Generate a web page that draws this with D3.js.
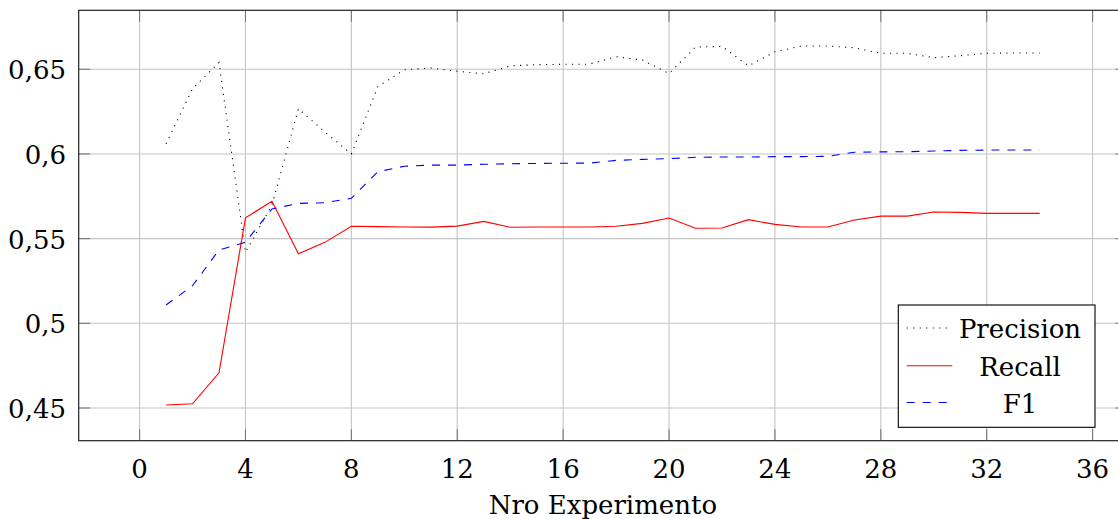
<!DOCTYPE html>
<html>
<head>
<meta charset="utf-8">
<script src="https://cdn.jsdelivr.net/npm/d3@7"></script>
<style>
  html, body { margin: 0; padding: 0; background: #fff; }
  svg { display: block; }
</style>
</head>
<body>
<svg id="chart" width="1118" height="519"></svg>
<script>
// ---- data ----
const experiments = d3.range(1, 35);
const precision = [0.606, 0.6385, 0.654, 0.542, 0.5698, 0.6267, 0.613, 0.600, 0.6397, 0.6497,
  0.6507, 0.6488, 0.6473, 0.652, 0.6527, 0.6529, 0.653, 0.6574, 0.6554, 0.6475,
  0.6631, 0.6635, 0.652, 0.6603, 0.6637, 0.6637, 0.6627, 0.6594, 0.6594, 0.6568,
  0.658, 0.6594, 0.6596, 0.6596];
const recall = [0.4518, 0.4525, 0.4708, 0.5623, 0.572, 0.5411, 0.5478, 0.5573, 0.5571, 0.5569,
  0.5568, 0.5574, 0.5602, 0.5567, 0.5569, 0.5569, 0.5569, 0.5573, 0.559, 0.5622,
  0.5561, 0.5563, 0.5612, 0.5584, 0.5569, 0.5569, 0.561, 0.5633, 0.5633, 0.5657,
  0.5655, 0.5649, 0.5649, 0.5649];
const f1 = [0.5108, 0.5222, 0.5433, 0.5478, 0.5675, 0.5708, 0.5712, 0.5738, 0.5895, 0.5927,
  0.5934, 0.5934, 0.5939, 0.5942, 0.5944, 0.5945, 0.5946, 0.5962, 0.5968, 0.5972,
  0.598, 0.5982, 0.5982, 0.5984, 0.5984, 0.5986, 0.601, 0.6012, 0.6013, 0.6017,
  0.6021, 0.6023, 0.6023, 0.6023];
const xTicks = [0, 4, 8, 12, 16, 20, 24, 28, 32, 36];
const yTicks = [0.45, 0.5, 0.55, 0.6, 0.65];
const yTickLabels = ["0,45", "0,5", "0,55", "0,6", "0,65"];
const seriesNames = ["Precision", "Recall", "F1"];
const xLabel = "Nro Experimento";

// ---- layout ----
const L = 78.7, R = 1127, T = 10.3, B = 440.7;
const x = d3.scaleLinear().domain([-2.3, 37.3]).range([L, R]);
const y = d3.scaleLinear().domain([0.4307, 0.6848]).range([B, T]);

const svg = d3.select("#chart");
const FS = 26;
const FF = "'DejaVu Serif', serif";

// grid
const grid = svg.append("g");
grid.selectAll("line.gx").data(xTicks).join("line")
  .attr("x1", d => x(d)).attr("x2", d => x(d)).attr("y1", T).attr("y2", B)
  .attr("stroke", "#c4c4c4").attr("stroke-width", 1.1);
grid.selectAll("line.gy").data(yTicks).join("line")
  .attr("x1", L).attr("x2", R).attr("y1", d => y(d)).attr("y2", d => y(d))
  .attr("stroke", "#c4c4c4").attr("stroke-width", 1.1);

// tick marks (inside, on all sides)
const TL = 11.5;
const ticks = svg.append("g").attr("stroke", "#777").attr("stroke-width", 1.1);
xTicks.forEach(d => {
  ticks.append("line").attr("x1", x(d)).attr("x2", x(d)).attr("y1", B).attr("y2", B - TL);
  ticks.append("line").attr("x1", x(d)).attr("x2", x(d)).attr("y1", T).attr("y2", T + TL);
});
yTicks.forEach(d => {
  ticks.append("line").attr("x1", L).attr("x2", L + TL).attr("y1", y(d)).attr("y2", y(d));
  ticks.append("line").attr("x1", R).attr("x2", R - TL).attr("y1", y(d)).attr("y2", y(d));
});

// lines
const line = d3.line().x((d, i) => x(experiments[i])).y(d => y(d));
svg.append("path").datum(precision).attr("d", line)
  .attr("fill", "none").attr("stroke", "#000").attr("stroke-width", 1.1)
  .attr("stroke-dasharray", "1.1 5.4");
svg.append("path").datum(recall).attr("d", line)
  .attr("fill", "none").attr("stroke", "#ff0000").attr("stroke-width", 1.1);
svg.append("path").datum(f1).attr("d", line)
  .attr("fill", "none").attr("stroke", "#0000ff").attr("stroke-width", 1.1)
  .attr("stroke-dasharray", "8 8");

// frame
svg.append("rect").attr("x", L).attr("y", T).attr("width", R - L).attr("height", B - T)
  .attr("fill", "none").attr("stroke", "#222").attr("stroke-width", 1.2);

// tick labels
svg.append("g").selectAll("text").data(xTicks).join("text")
  .attr("x", d => x(d)).attr("y", 478)
  .attr("text-anchor", "middle").attr("font-size", FS).attr("font-family", FF)
  .text(d => d);
svg.append("g").selectAll("text").data(yTicks).join("text")
  .attr("x", 66).attr("y", d => y(d) + 10)
  .attr("text-anchor", "end").attr("font-size", FS).attr("font-family", FF)
  .text((d, i) => yTickLabels[i]);

// axis label
svg.append("text").attr("x", (L + R) / 2).attr("y", 514)
  .attr("text-anchor", "middle").attr("font-size", FS).attr("font-family", FF)
  .text(xLabel);

// legend
const lg = svg.append("g");
lg.append("rect").attr("x", 898.3).attr("y", 305).attr("width", 196.7).attr("height", 122.3)
  .attr("fill", "#fff").attr("stroke", "#000").attr("stroke-width", 1.1);
const legendStyles = [
  { stroke: "#000", dash: "1.1 5.4" },
  { stroke: "#ff0000", dash: null },
  { stroke: "#0000ff", dash: "8 8" }
];
const legendYs = [328, 365.7, 402.5];
seriesNames.forEach((name, i) => {
  lg.append("line").attr("x1", 906.7).attr("x2", 952.3)
    .attr("y1", legendYs[i]).attr("y2", legendYs[i])
    .attr("stroke", legendStyles[i].stroke).attr("stroke-width", 1.1)
    .attr("stroke-dasharray", legendStyles[i].dash);
  lg.append("text").attr("x", 1020).attr("y", legendYs[i] + 10)
    .attr("text-anchor", "middle").attr("font-size", FS).attr("font-family", FF)
    .text(name);
});
</script>
</body>
</html>
